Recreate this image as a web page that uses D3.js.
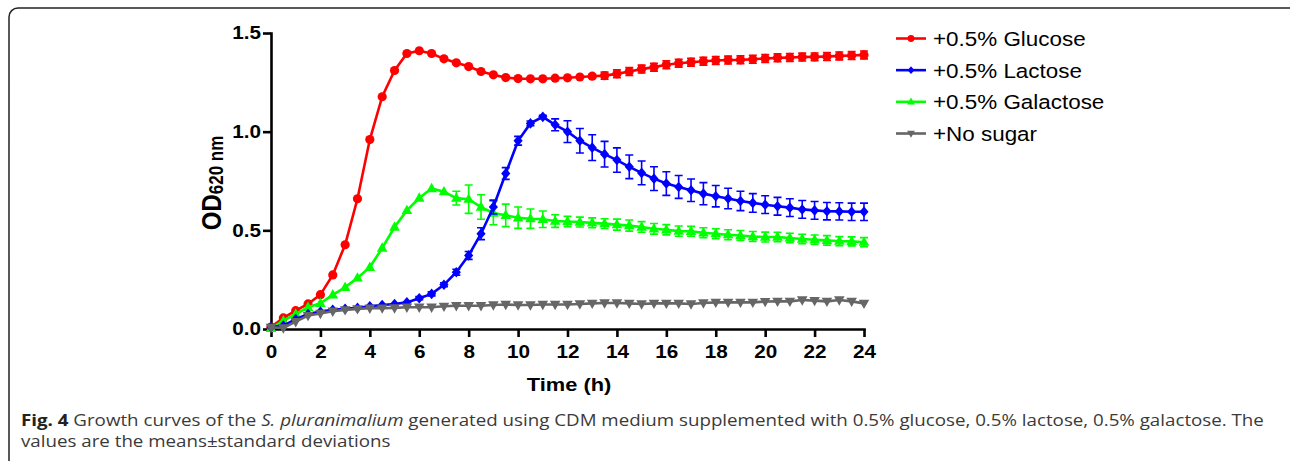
<!DOCTYPE html>
<html>
<head>
<meta charset="utf-8">
<script src="https://cdn.jsdelivr.net/npm/d3@7"></script>
<style>
body { margin: 0; background: #fff; }
svg { display: block; }
</style>
</head>
<body>
<div id="chart"></div>
<script>

// time grid (h), one reading every half hour
var hours = d3.range(0, 24.5, 0.5)

var glucose = [0.010, 0.056, 0.093, 0.127, 0.174, 0.274, 0.427, 0.660, 0.960, 1.177,
  1.310, 1.396, 1.410, 1.396, 1.369, 1.349, 1.330, 1.305, 1.288, 1.274,
  1.269, 1.268, 1.268, 1.271, 1.273, 1.277, 1.281, 1.284, 1.293, 1.305,
  1.317, 1.327, 1.339, 1.347, 1.352, 1.357, 1.361, 1.363, 1.364, 1.367,
  1.371, 1.374, 1.376, 1.378, 1.379, 1.381, 1.384, 1.386, 1.389]
var glucoseSd = [0, 0, 0, 0, 0, 0, 0, 0, 0, 0,
  0, 0, 0, 0, 0, 0, 0, 0, 0, 0,
  0, 0, 0, 0, 0, 0, 0.010, 0.018, 0.020, 0.020,
  0.020, 0.020, 0.020, 0.020, 0.020, 0.020, 0.020, 0.020, 0.020, 0.020,
  0.020, 0.020, 0.020, 0.020, 0.020, 0.020, 0.020, 0.020, 0.020]

var lactose = [0.010, 0.017, 0.050, 0.076, 0.088, 0.097, 0.103, 0.107, 0.115, 0.122,
  0.127, 0.135, 0.156, 0.178, 0.224, 0.288, 0.373, 0.483, 0.618, 0.788,
  0.954, 1.042, 1.075, 1.035, 1.000, 0.954, 0.919, 0.886, 0.856, 0.822,
  0.791, 0.762, 0.737, 0.720, 0.703, 0.686, 0.673, 0.661, 0.649, 0.639,
  0.630, 0.622, 0.615, 0.606, 0.601, 0.597, 0.596, 0.594, 0.594]
var lactoseSd = [0, 0, 0, 0, 0, 0, 0, 0, 0, 0,
  0, 0, 0.008, 0.010, 0.010, 0.015, 0.020, 0.030, 0.035, 0.030,
  0.022, 0.012, 0.008, 0.030, 0.055, 0.062, 0.065, 0.065, 0.062, 0.060,
  0.060, 0.060, 0.060, 0.058, 0.057, 0.056, 0.054, 0.052, 0.049, 0.047,
  0.045, 0.045, 0.045, 0.045, 0.045, 0.044, 0.044, 0.044, 0.044]

var galactose = [0.003, 0.042, 0.076, 0.110, 0.130, 0.173, 0.211, 0.259, 0.313, 0.410,
  0.517, 0.601, 0.664, 0.712, 0.696, 0.663, 0.658, 0.618, 0.588, 0.576,
  0.564, 0.559, 0.556, 0.547, 0.545, 0.542, 0.538, 0.534, 0.529, 0.524,
  0.517, 0.508, 0.503, 0.496, 0.495, 0.488, 0.483, 0.478, 0.474, 0.469,
  0.466, 0.466, 0.461, 0.456, 0.452, 0.449, 0.445, 0.444, 0.440]
var galactoseSd = [0, 0, 0, 0, 0, 0, 0, 0, 0, 0,
  0, 0, 0, 0, 0, 0.035, 0.072, 0.062, 0.060, 0.057,
  0.054, 0.049, 0.042, 0.032, 0.026, 0.025, 0.025, 0.025, 0.028, 0.028,
  0.027, 0.027, 0.026, 0.026, 0.025, 0.025, 0.025, 0.025, 0.025, 0.025,
  0.025, 0.024, 0.024, 0.024, 0.024, 0.024, 0.023, 0.023, 0.023]

var noSugar = [0.008, 0.005, 0.037, 0.068, 0.079, 0.090, 0.097, 0.102, 0.105, 0.106,
  0.107, 0.110, 0.110, 0.110, 0.115, 0.118, 0.118, 0.118, 0.122, 0.124,
  0.122, 0.122, 0.124, 0.124, 0.124, 0.127, 0.130, 0.132, 0.132, 0.130,
  0.127, 0.130, 0.130, 0.130, 0.127, 0.132, 0.135, 0.135, 0.135, 0.135,
  0.139, 0.140, 0.140, 0.147, 0.144, 0.140, 0.147, 0.140, 0.130]

var seriesNames = ["+0.5% Glucose", "+0.5% Lactose", "+0.5% Galactose", "+No sugar"]
var xTicks = [0, 2, 4, 6, 8, 10, 12, 14, 16, 18, 20, 22, 24]
var yTicks = [0, 0.5, 1.0, 1.5]

var series = [
  {name: seriesNames[0], values: glucose, sd: glucoseSd, color: "#ff0000", shape: "circle"},
  {name: seriesNames[1], values: lactose, sd: lactoseSd, color: "#0000ff", shape: "diamond"},
  {name: seriesNames[2], values: galactose, sd: galactoseSd, color: "#00ff00", shape: "triangle"},
  {name: seriesNames[3], values: noSugar, sd: null, color: "#666666", shape: "down"}
]
// draw order seen in the figure
var drawOrder = [0, 2, 1, 3]

var W = 1290
var H = 461
var sx = 1.15   // the source figure is a bit wider than tall
var font = "'Liberation Sans', Arial, sans-serif"

var xScale = d3.scaleLinear().domain([0, 24]).range([271, 864])
var yScale = d3.scaleLinear().domain([0, 1.5]).range([329, 33])

function symbolPath(shape, r) {
  if (shape == "circle") return d3.symbol(d3.symbolCircle, Math.PI * r * r)()
  if (shape == "diamond") return "M0," + (-r * 1.15) + "L" + r + ",0L0," + (r * 1.15) + "L" + (-r) + ",0Z"
  if (shape == "triangle") return "M0," + (-r * 1.25) + "L" + (r * 1.15) + "," + (r * 0.8) + "L" + (-r * 1.15) + "," + (r * 0.8) + "Z"
  return "M0," + (r * 1.25) + "L" + (r * 1.15) + "," + (-r * 0.8) + "L" + (-r * 1.15) + "," + (-r * 0.8) + "Z"
}

var svg = d3.select("#chart").append("svg")
  .attr("width", W)
  .attr("height", H)

// figure frame
svg.append("rect")
  .attr("x", 9)
  .attr("y", 8)
  .attr("width", 1310)
  .attr("height", 490)
  .attr("rx", 9)
  .attr("fill", "none")
  .attr("stroke", "#222")
  .attr("stroke-width", 1.5)

// axes
var yAxis = d3.axisLeft(yScale).tickValues(yTicks).tickFormat(d3.format(".1f"))
  .tickSize(8).tickSizeOuter(0).tickPadding(2)
var xAxis = d3.axisBottom(xScale).tickValues(xTicks).tickFormat(d3.format("d"))
  .tickSize(8).tickSizeOuter(0).tickPadding(8)

var gy = svg.append("g").attr("class", "axis-y")
  .attr("transform", "translate(" + xScale(0) + ",0)")
  .call(yAxis)
var gx = svg.append("g").attr("class", "axis-x")
  .attr("transform", "translate(0," + yScale(0) + ")")
  .call(xAxis)

svg.selectAll(".axis-y path, .axis-y line, .axis-x path, .axis-x line")
  .attr("stroke", "#000")
  .attr("stroke-width", 2.6)
svg.selectAll(".axis-y .domain, .axis-x .domain").attr("stroke-linecap", "square")

gy.selectAll("text")
  .attr("font-family", font).attr("font-weight", "bold").attr("font-size", 18)
  .attr("fill", "#000")
  .attr("x", -10 / sx)
  .attr("transform", "scale(" + sx + ",1)")
gx.selectAll("text")
  .attr("font-family", font).attr("font-weight", "bold").attr("font-size", 18)
  .attr("fill", "#000")
  .attr("transform", "scale(" + sx + ",1)")

// axis titles
svg.append("text")
  .attr("transform", "translate(569,391) scale(" + sx + ",1)")
  .attr("text-anchor", "middle")
  .attr("font-family", font).attr("font-weight", "bold").attr("font-size", 19)
  .text("Time (h)")

var ylab = svg.append("text")
  .attr("transform", "translate(221,183) rotate(-90) scale(1," + sx + ")")
  .attr("text-anchor", "middle")
  .attr("font-family", font).attr("font-weight", "bold").attr("font-size", 24)
ylab.append("tspan").text("OD")
ylab.append("tspan").attr("font-size", 17).attr("dy", 2).text("620 nm")

// data
var line = d3.line()
  .x((d, i) => xScale(hours[i]))
  .y(d => yScale(d))

var plot = svg.append("g").attr("class", "plot")

drawOrder.forEach(function(k) {
  var s = series[k]
  var g = plot.append("g").attr("class", "series")

  if (s.sd) {
    g.selectAll(".err")
      .data(s.values.map((v, i) => ({t: hours[i], v: v, e: s.sd[i]})).filter(d => d.e > 0))
      .enter().append("path")
      .attr("class", "err")
      .attr("fill", "none")
      .attr("stroke", s.color)
      .attr("stroke-width", 1.6)
      .attr("d", function(d) {
        var x = xScale(d.t), y0 = yScale(d.v - d.e), y1 = yScale(d.v + d.e)
        return "M" + x + "," + y0 + "V" + y1 +
          "M" + (x - 4) + "," + y1 + "H" + (x + 4) +
          "M" + (x - 4) + "," + y0 + "H" + (x + 4)
      })
  }

  g.append("path")
    .datum(s.values)
    .attr("fill", "none")
    .attr("stroke", s.color)
    .attr("stroke-width", 2.6)
    .attr("d", line)

  g.selectAll(".pt")
    .data(s.values)
    .enter().append("path")
    .attr("class", "pt")
    .attr("transform", (d, i) => "translate(" + xScale(hours[i]) + "," + yScale(d) + ")")
    .attr("d", symbolPath(s.shape, 4.6))
    .attr("fill", s.color)
})

// legend
var legendY = d3.scalePoint().domain(seriesNames).range([38.5, 133.5])
var legend = svg.append("g").attr("class", "legend")
series.forEach(function(s) {
  var y = legendY(s.name)
  legend.append("line")
    .attr("x1", 896).attr("x2", 926)
    .attr("y1", y).attr("y2", y)
    .attr("stroke", s.color).attr("stroke-width", 2.6)
  legend.append("path")
    .attr("transform", "translate(911," + y + ")")
    .attr("d", symbolPath(s.shape, 3.4))
    .attr("fill", s.color)
  legend.append("text")
    .attr("transform", "translate(933," + (y + 7.4) + ") scale(" + sx + ",1)")
    .attr("font-family", font).attr("font-size", 19.5)
    .attr("fill", "#000")
    .text(s.name)
})

// caption
var capFont = "'Open Sans', 'Noto Sans', sans-serif"
var cap1 = svg.append("text")
  .attr("transform", "translate(21,426) scale(" + sx + ",1)")
  .attr("font-family", capFont).attr("font-size", 16.3).attr("fill", "#3a3a3a")
cap1.append("tspan").attr("font-weight", "bold").attr("fill", "#222").text("Fig. 4")
cap1.append("tspan").text(" Growth curves of the ")
cap1.append("tspan").attr("font-style", "italic").text("S. pluranimalium")
cap1.append("tspan").text(" generated using CDM medium supplemented with 0.5% glucose, 0.5% lactose, 0.5% galactose. The")

svg.append("text")
  .attr("transform", "translate(21,447) scale(" + sx + ",1)")
  .attr("font-family", capFont).attr("font-size", 16.3).attr("fill", "#3a3a3a")
  .text("values are the means\u00b1standard deviations")

</script>
</body>
</html>
